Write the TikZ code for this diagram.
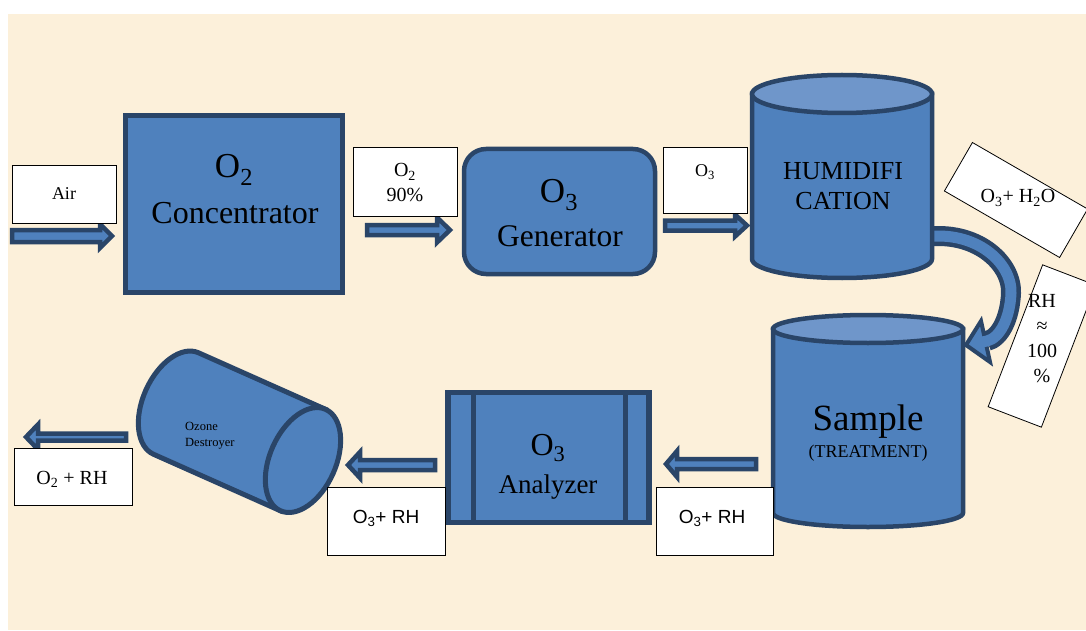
\documentclass[tikz,border=0pt]{standalone}
\usepackage{fontspec}
\setmainfont{Liberation Serif}
\newfontfamily\arialf{Liberation Sans}
\usetikzlibrary{calc}
\definecolor{bgc}{HTML}{FCF0DA}
\definecolor{boxblue}{HTML}{4F81BD}
\definecolor{topblue}{HTML}{6F96CA}
\definecolor{edgec}{HTML}{2A4568}
\tikzset{
  unit/.style={draw=edgec, line width=4.5pt, fill=boxblue, inner sep=0pt},
  cylbody/.style={draw=edgec, line width=4.5pt, fill=boxblue},
  cyltop/.style={draw=edgec, line width=4.5pt, fill=topblue},
  lbl/.style={draw=black, line width=0.8pt, fill=white, inner sep=0pt, align=center},
  barrowst/.style={draw=edgec, line width=4.5pt, fill=boxblue, line join=miter, miter limit=3},
  txt/.style={inner sep=0pt, text=black, align=center},
}
% tail x, head-base x, tip x, centre y, shaft half height, head half height
\newcommand{\barrow}[6]{%
  \draw[barrowst] (#1,#4-#5) -- (#2,#4-#5) -- (#2,#4-#6) -- (#3,#4) -- (#2,#4+#6) -- (#2,#4+#5) -- (#1,#4+#5) -- cycle;}
\begin{document}
\begin{tikzpicture}[x=1pt,y=-1pt]
\useasboundingbox (0,0) rectangle (1086,631);
\fill[white] (0,0) rectangle (1086,631);
\fill[bgc] (8,14) rectangle (1086,630);

% ---------- O2 concentrator ----------
\node[unit, minimum width=217, minimum height=177] (conc) at (234,204) {};
\node[txt, anchor=base, font=\fontsize{35}{40}\selectfont] (conct1) at (234,178) {O\textsubscript{2}};
\node[txt, anchor=base, font=\fontsize{32}{36}\selectfont] (conct2) at (235,223) {Concentrator};

% ---------- O3 generator ----------
\node[unit, rounded corners=22pt, minimum width=191, minimum height=125] (gen) at (559.5,211.5) {};
\node[txt, anchor=base, font=\fontsize{35}{40}\selectfont] (gent1) at (559,203) {O\textsubscript{3}};
\node[txt, anchor=base, font=\fontsize{31.5}{36}\selectfont] (gent2) at (560,246) {Generator};

% ---------- curved arrow (drawn below humidification) ----------
\draw[draw=edgec, line width=20pt] (925,237) .. controls (975,230) and (1012,262) .. (1011,293)
      .. controls (1010,318) and (1000,338) .. (987,341);
\draw[barrowst, line width=4pt] (981,321) -- (966,345) -- (990,362) -- cycle;
\draw[draw=boxblue, line width=11pt] (925,237) .. controls (975,230) and (1012,262) .. (1011,293)
      .. controls (1010,318) and (1000,338) .. (987,341) -- (980,342.5);

% ---------- humidification cylinder ----------
\draw[cylbody] (752,94) -- (752,259) arc[start angle=180, end angle=0, x radius=90, y radius=19] -- (932,94) -- cycle;
\draw[cyltop] (842,94) ellipse [x radius=90, y radius=19];
\coordinate (hum) at (842,185);
\node[txt, anchor=base, font=\fontsize{26}{30}\selectfont] (humt1) at (843,179) {HUMIDIFI};
\node[txt, anchor=base, font=\fontsize{26}{30}\selectfont] (humt2) at (843,209) {CATION};

% ---------- sample cylinder ----------
\draw[cylbody] (773,329) -- (773,513) arc[start angle=180, end angle=0, x radius=95, y radius=14] -- (963,329) -- cycle;
\draw[cyltop] (868,329) ellipse [x radius=95, y radius=14];
\coordinate (samp) at (868,421);
\node[txt, anchor=base, font=\fontsize{37}{42}\selectfont] (sampt1) at (868,430) {Sample};
\node[txt, anchor=base, font=\fontsize{18}{22}\selectfont] (sampt2) at (868,457) {(TREATMENT)};

% ---------- O3 analyzer ----------
\node[unit, line width=5.5pt, minimum width=201, minimum height=130] (ana) at (548.5,457.5) {};
\draw[draw=edgec, line width=5pt] (473,392.5) -- (473,522.5);
\draw[draw=edgec, line width=5pt] (625,392.5) -- (625,522.5);
\node[txt, anchor=base, font=\fontsize{32}{38}\selectfont] (anat1) at (548,455) {O\textsubscript{3}};
\node[txt, anchor=base, font=\fontsize{27}{32}\selectfont] (anat2) at (548,493) {Analyzer};

% ---------- ozone destroyer ----------
\begin{scope}[shift={(176,403.5)}, rotate=-24]
  \draw[cylbody, line width=5pt] (0,-55.5) -- (139,-55.5) -- (139,55.5) -- (0,55.5)
       arc[start angle=90, end angle=270, x radius=33, y radius=55.5] -- cycle;
  \draw[cylbody, line width=5pt] (139,0) ellipse [x radius=33, y radius=55.5];
\end{scope}
\coordinate (dest) at (230,430);
\node[txt, anchor=base west, align=left, font=\fontsize{12.5}{16}\selectfont] (destt) at (185,446) {Ozone\\Destroyer};

% ---------- block arrows ----------
\barrow{12}{100}{112}{236}{6}{12}
\barrow{367}{437}{450}{230}{5}{12.5}
\barrow{665}{735}{747}{225.5}{5}{11}
\barrow{756}{677}{666}{464}{5}{13}
\barrow{435}{360}{348}{465}{5}{13}
\barrow{126}{38}{26}{437}{3.5}{12.5}

% ---------- labels ----------
\node[lbl, minimum width=104, minimum height=58, font=\fontsize{18}{21}\selectfont] (air) at (64,194) {Air};
\node[lbl, minimum width=104, minimum height=69] (o2box) at (405,181.5) {};
\node[txt, font=\fontsize{20}{25}\selectfont] (o2t) at (405,183) {O\textsubscript{2}\\90\%};
\node[lbl, minimum width=84, minimum height=66] (o3box) at (705,180) {};
\node[txt, anchor=base, font=\fontsize{18}{22}\selectfont] (o3t) at (705,177) {O\textsubscript{3}};

\node[lbl, rotate=-30, minimum width=133, minimum height=56] (o3h2o) at (1016,200) {};
\node[txt, anchor=base, font=\fontsize{20}{24}\selectfont] (o3h2ot) at (1018,203) {O\textsubscript{3}+ H\textsubscript{2}O};
\node[lbl, rotate=-21, minimum width=57, minimum height=152] (rhbox) at (1042,346) {};
\node[txt, font=\fontsize{20}{25}\selectfont] (rht) at (1042,339) {RH\\≈\\100\\\%};

\node[lbl, minimum width=117, minimum height=68] (o3rh1) at (714.5,521) {};
\node[txt, anchor=base, font=\arialf\fontsize{19}{23}\selectfont] (o3rh1t) at (712,523) {O\textsubscript{3}+ RH};
\node[lbl, minimum width=118, minimum height=68] (o3rh2) at (386,521) {};
\node[txt, anchor=base, font=\arialf\fontsize{19}{23}\selectfont] (o3rh2t) at (386,523) {O\textsubscript{3}+ RH};
\node[lbl, minimum width=118, minimum height=57] (o2rh) at (73,476.5) {};
\node[txt, anchor=base, font=\fontsize{20}{24}\selectfont] (o2rht) at (72,484) {O\textsubscript{2} + RH};
\end{tikzpicture}
\end{document}
